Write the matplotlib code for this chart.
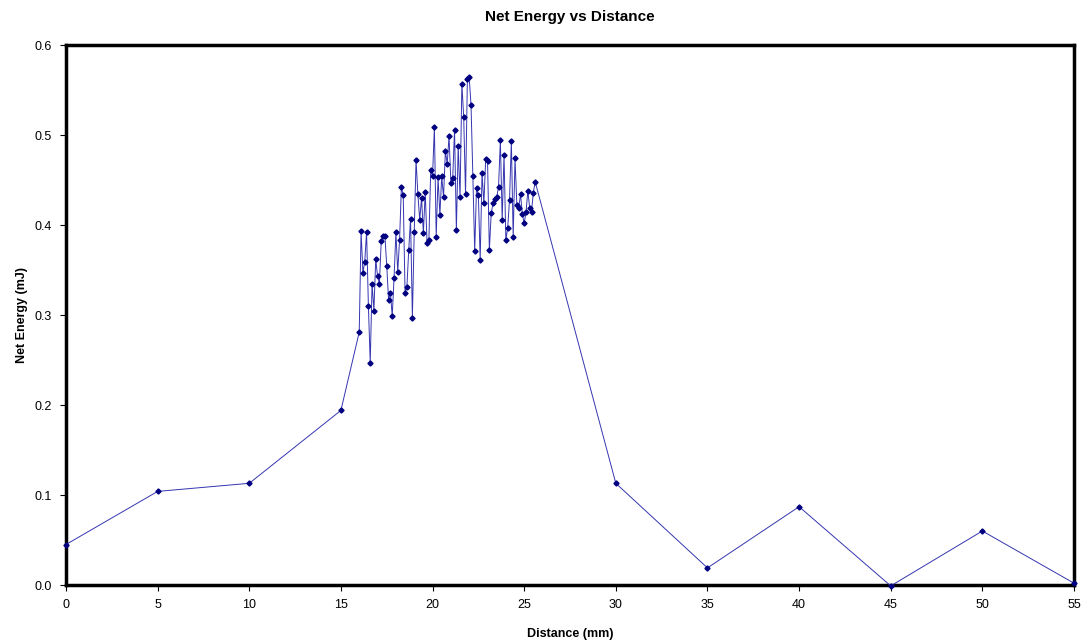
import matplotlib
matplotlib.use("Agg")
import matplotlib.pyplot as plt
from matplotlib.ticker import FormatStrFormatter

plt.rcParams["font.family"] = ["Liberation Sans", "DejaVu Sans"]

# coarse scan points before and after the dense region
start_dist = [0, 5, 10, 15]
start_energy = [0.045, 0.104, 0.113, 0.194]

dense_dist = [
    16.0, 16.1, 16.2, 16.3, 16.4, 16.5, 16.6, 16.7, 16.8, 16.9,
    17.0, 17.1, 17.2, 17.3, 17.4, 17.5, 17.6, 17.7, 17.8, 17.9,
    18.0, 18.1, 18.2, 18.3, 18.4, 18.5, 18.6, 18.7, 18.8, 18.9,
    19.0, 19.1, 19.2, 19.3, 19.4, 19.5, 19.6, 19.7, 19.8, 19.9,
    20.0, 20.1, 20.2, 20.3, 20.4, 20.5, 20.6, 20.7, 20.8, 20.9,
    21.0, 21.1, 21.2, 21.3, 21.4, 21.5, 21.6, 21.7, 21.8, 21.9,
    22.0, 22.1, 22.2, 22.3, 22.4, 22.5, 22.6, 22.7, 22.8, 22.9,
    23.0, 23.1, 23.2, 23.3, 23.4, 23.5, 23.6, 23.7, 23.8, 23.9,
    24.0, 24.1, 24.2, 24.3, 24.4, 24.5, 24.6, 24.7, 24.8, 24.9,
    25.0, 25.1, 25.2, 25.3, 25.4, 25.5, 25.6,
]
dense_energy = [
    0.281, 0.393, 0.347, 0.359, 0.392, 0.310, 0.247, 0.335, 0.305, 0.362,
    0.343, 0.335, 0.382, 0.388, 0.388, 0.355, 0.317, 0.325, 0.299, 0.341,
    0.392, 0.348, 0.383, 0.442, 0.433, 0.325, 0.331, 0.372, 0.407, 0.297,
    0.392, 0.472, 0.434, 0.406, 0.430, 0.391, 0.437, 0.380, 0.383, 0.461,
    0.454, 0.509, 0.387, 0.453, 0.411, 0.454, 0.431, 0.482, 0.468, 0.499,
    0.447, 0.452, 0.506, 0.394, 0.488, 0.431, 0.557, 0.520, 0.434, 0.562,
    0.564, 0.533, 0.454, 0.371, 0.441, 0.433, 0.361, 0.458, 0.424, 0.473,
    0.471, 0.372, 0.413, 0.424, 0.429, 0.431, 0.442, 0.494, 0.406, 0.478,
    0.383, 0.397, 0.428, 0.493, 0.387, 0.474, 0.422, 0.419, 0.434, 0.412,
    0.402, 0.414, 0.438, 0.419, 0.415, 0.436, 0.448,
]

end_dist = [30, 35, 40, 45, 50, 55]
end_energy = [0.113, 0.019, 0.087, -0.001, 0.060, 0.002]

distance = start_dist + dense_dist + end_dist
energy = start_energy + dense_energy + end_energy

x_ticks = list(range(0, 56, 5))
y_ticks = [0.0, 0.1, 0.2, 0.3, 0.4, 0.5, 0.6]

fig = plt.figure(figsize=(10.91, 6.44), dpi=100)
ax = fig.add_axes([66 / 1091, 1 - 585 / 644, (1074 - 66) / 1091, (585 - 45) / 644])

ax.plot(distance, energy, color="#3535b0", linewidth=0.7,
        marker="D", markersize=2.6, markerfacecolor="#000080",
        markeredgecolor="#000080", clip_on=False, zorder=3)

ax.set_xlim(0, 55)
ax.set_ylim(0, 0.6)
ax.set_xticks(x_ticks)
ax.set_yticks(y_ticks)
ax.yaxis.set_major_formatter(FormatStrFormatter("%.1f"))
ax.tick_params(direction="out", length=4, width=0.8, labelsize=9, pad=6)

for spine in ax.spines.values():
    spine.set_linewidth(2.5)
    spine.set_color("black")

ax.set_title("Net Energy vs Distance", fontsize=11, fontweight="bold", pad=17)
ax.set_xlabel("Distance (mm)", fontsize=9, fontweight="bold", labelpad=12)
ax.set_ylabel("Net Energy (mJ)", fontsize=9, fontweight="bold", labelpad=5)

fig.savefig("out.png", dpi=100)
plt.close(fig)
